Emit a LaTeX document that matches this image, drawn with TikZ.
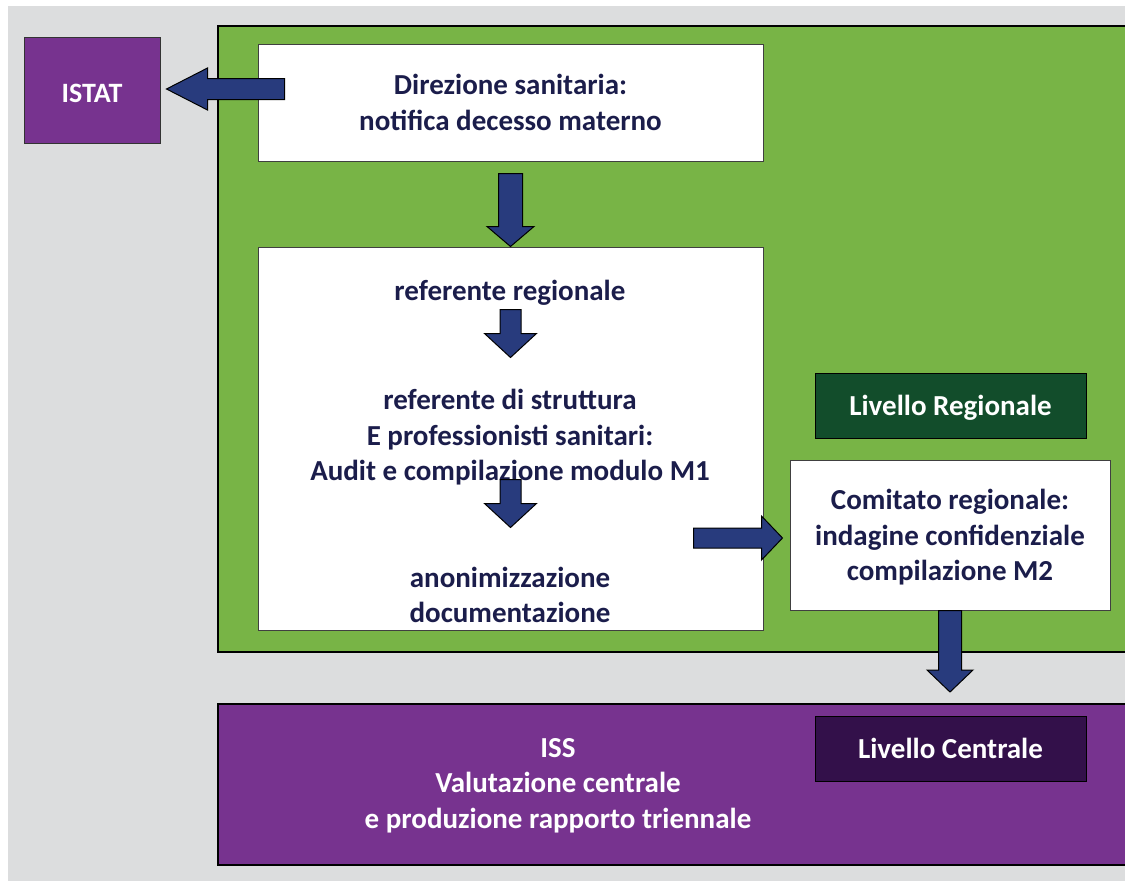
\documentclass[tikz,border=0pt]{standalone}
\usepackage{fontspec}
\setmainfont{Carlito}
\usepackage{xcolor}
\definecolor{cBack}{HTML}{DCDDDE}
\definecolor{cGreen}{HTML}{78B446}
\definecolor{cDarkGreen}{HTML}{124D2B}
\definecolor{cPurple}{HTML}{77338F}
\definecolor{cDarkPurple}{HTML}{33104A}
\definecolor{cArrow}{HTML}{283B7D}
\definecolor{cText}{HTML}{1B1D4B}
\usepackage{tikz}
\usetikzlibrary{calc}
\tikzset{
  node-box/.style={draw=black!75,fill=white,line width=1pt,inner sep=0pt,
    align=center,text=cText,text depth=0pt},
  node-text/.style={inner sep=0pt,align=center,text=cText,text depth=0pt},
  node-tag/.style={draw=black,line width=1pt,inner sep=0pt,text=white,
    minimum width=271pt,minimum height=65pt,text height=19pt,text depth=0pt},
  node-panel/.style={draw=black,line width=1.5pt,inner sep=0pt,anchor=north west},
  % freccia "a blocco": gambo + punta, da start a target
  a-shaft/.store in=\ashaft, a-head/.store in=\ahead, a-len/.store in=\alen,
  a-shaft=11pt, a-head=24pt, a-len=22pt,
  fat-arrow/.style={draw=black,line width=1pt,fill=cArrow,line join=miter,
    to path={
      ($(\tikztostart)!\ashaft!90:(\tikztotarget)$) --
      ($(\tikztotarget)!\alen!(\tikztostart)!\ashaft!-90:(\tikztostart)$) --
      ($(\tikztotarget)!\alen!(\tikztostart)!\ahead!-90:(\tikztostart)$) --
      (\tikztotarget) --
      ($(\tikztotarget)!\alen!(\tikztostart)!\ahead!90:(\tikztostart)$) --
      ($(\tikztotarget)!\alen!(\tikztostart)!\ashaft!90:(\tikztostart)$) --
      ($(\tikztostart)!\ashaft!-90:(\tikztotarget)$) -- cycle}},
}

\begin{document}
\begin{tikzpicture}[x=1pt,y=-1pt,font=\bfseries\fontsize{29}{35.5}\selectfont]
  \clip (0,0) rectangle (1125,881);
  \fill[cBack] (8,6) rectangle (1140,900);

  % pannelli
  \node[node-panel,fill=cGreen,minimum width=930pt,minimum height=626pt] (regpanel) at (217,25) {};
  \node[node-panel,fill=cPurple,minimum width=930pt,minimum height=161pt] (isspanel) at (217,703) {};

  \node[draw=black!80,line width=1pt,fill=cPurple,text=white,minimum width=136pt,
    minimum height=106pt,text height=24pt,text depth=0pt,
    font=\bfseries\fontsize{28}{34}\selectfont] (istat) at (92,90) {ISTAT};

  \node[node-box,minimum width=505pt,minimum height=117pt] (dir) at (510.5,102.5)
    {Direzione sanitaria:\\notifica decesso materno};
  \node[node-box,minimum width=505pt,minimum height=383pt] (ref) at (510.5,438.5) {};
  \node[node-text] (t1) at (510,290) {referente regionale};
  \node[node-text] (t2) at (510,435) {referente di struttura\\E professionisti sanitari:\\Audit e compilazione modulo M1};
  \node[node-text] (t3) at (510,595) {anonimizzazione\\documentazione};

  \node[node-tag,fill=cDarkGreen] (reglab) at (950.5,406) {Livello Regionale};
  \node[node-box,minimum width=320pt,minimum height=150pt,text depth=-8pt] (com) at (950,535)
    {Comitato regionale:\\indagine confidenziale\\compilazione M2};

  \node[node-tag,fill=cDarkPurple] (isslab) at (950.5,748.5) {Livello Centrale};
  \node[node-text,text=white] (iss) at (558,783) {ISS\\Valutazione centrale\\e produzione rapporto triennale};

  % frecce
  \draw[fat-arrow,a-shaft=10.5pt,a-head=21pt,a-len=41pt]
    ($(istat.east -| dir.west)+(27,-1)$) to ($(istat.east)+(6,-1)$);
  \draw[fat-arrow,a-shaft=12pt,a-head=23.5pt,a-len=20pt] ($(dir.south)+(0,12)$) to (ref.north);
  \draw[fat-arrow,a-shaft=10.5pt,a-head=26pt,a-len=24pt]
    ($(ref.north)+(0,63)$) to ($(ref.north)+(0,111)$);
  \draw[fat-arrow,a-shaft=10.5pt,a-head=26pt,a-len=24pt]
    ($(ref.north)+(0,233)$) to ($(ref.north)+(0,281)$);
  \draw[fat-arrow,a-shaft=10pt,a-head=22pt,a-len=21pt]
    ($(com.west -| ref.east)+(-70,3)$) to ($(com.west)+(-7,3)$);
  \draw[fat-arrow,a-shaft=11.5pt,a-head=23pt,a-len=22pt]
    (com.south) to ($(isspanel.north -| com.south)+(0,-11)$);
\end{tikzpicture}
\end{document}
